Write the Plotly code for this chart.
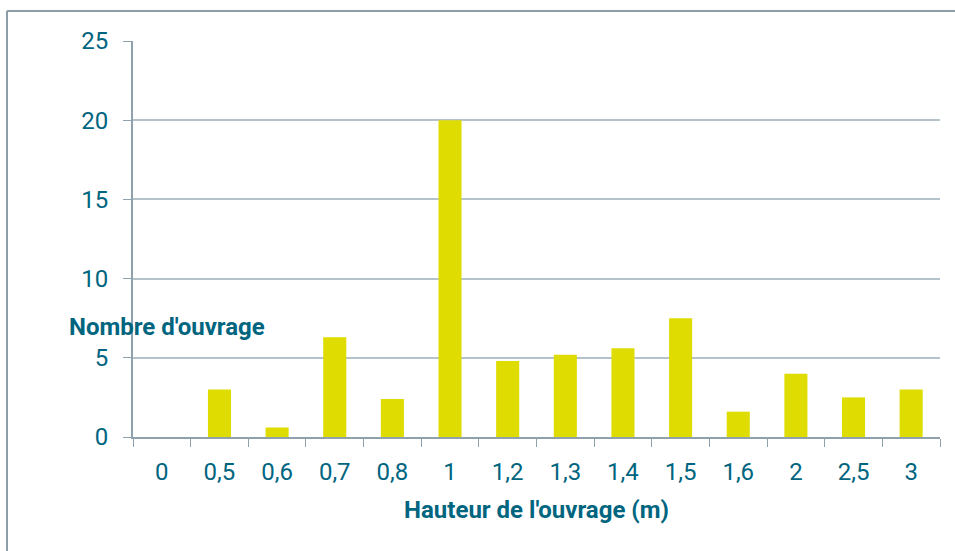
import plotly.graph_objects as go

categories = ["0", "0,5", "0,6", "0,7", "0,8", "1", "1,2", "1,3", "1,4", "1,5", "1,6", "2", "2,5", "3"]
values = [0, 3, 0.6, 6.3, 2.4, 20, 4.8, 5.2, 5.6, 7.5, 1.6, 4.0, 2.5, 3.0]
y_ticks = [0, 5, 10, 15, 20, 25]

TEXT = "#00657f"
AXIS = "#8fa1ad"
GRID = "#b4c3cb"
FONT = "Roboto, sans-serif"

fig = go.Figure(go.Bar(x=categories, y=values, marker=dict(color="#dedc00", line=dict(width=0)), width=0.4))

fig.update_layout(
    width=955, height=551,
    margin=dict(l=133, r=15, t=41, b=114),
    paper_bgcolor="white", plot_bgcolor="white",
    showlegend=False,
    font=dict(family=FONT, color=TEXT, size=24),
    xaxis=dict(
        type="category", tickson="boundaries", ticks="outside", ticklen=8, tickcolor=AXIS,
        showline=True, linecolor=AXIS, linewidth=2, showgrid=False,
        tickfont=dict(size=24, color=TEXT, family=FONT), ticklabelstandoff=12,
        title=dict(text="Hauteur de l'ouvrage (m)", font=dict(size=24, color=TEXT, family=FONT, weight="bold"), standoff=16),
    ),
    yaxis=dict(
        range=[0, 25], tickvals=y_ticks, ticks="outside", ticklen=8, tickcolor=AXIS,
        showline=True, linecolor=AXIS, linewidth=2, showgrid=True, gridcolor=GRID, gridwidth=2,
        zeroline=False, tickfont=dict(size=24, color=TEXT, family=FONT), ticklabelstandoff=10,
    ),
    annotations=[dict(
        text="Nombre d'ouvrage", xref="paper", yref="paper", x=(67 - 133) / 807, y=(437 - 327) / 396,
        xanchor="left", yanchor="middle", showarrow=False,
        font=dict(size=24, color=TEXT, family=FONT, weight="bold"),
    )],
    shapes=[
        dict(type="line", xref="paper", yref="paper", x0=(7 - 133) / 807, x1=(7 - 133) / 807,
             y0=-0.3, y1=(437 - 11) / 396, line=dict(color="#8e9ea8", width=2)),
        dict(type="line", xref="paper", yref="paper", x0=(7 - 133) / 807, x1=1.1,
             y0=(437 - 11) / 396, y1=(437 - 11) / 396, line=dict(color="#8e9ea8", width=2)),
    ],
)

fig.write_html("out.html", config={"displayModeBar": False},
               post_script="document.body.style.margin='0';")
